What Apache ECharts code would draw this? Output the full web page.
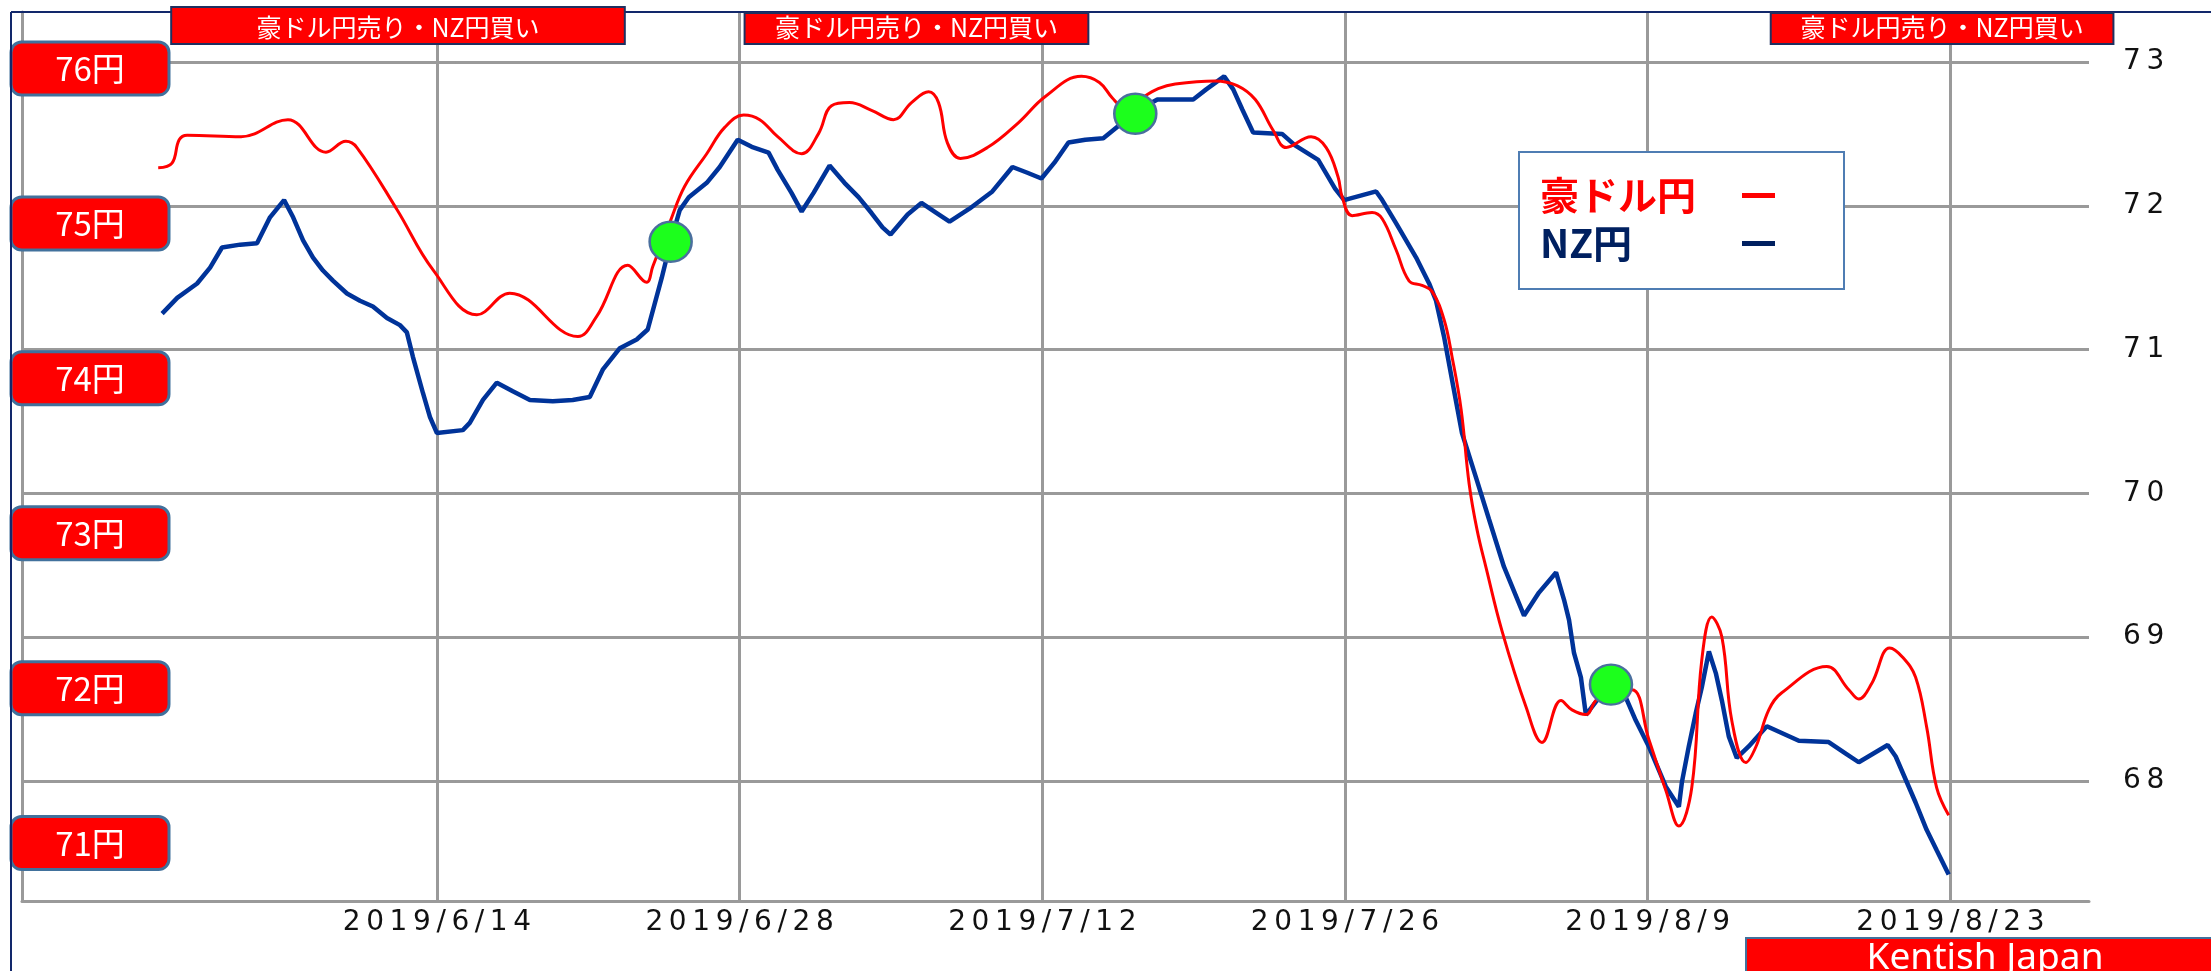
<!DOCTYPE html>
<html>
<head>
<meta charset="utf-8">
<script src="https://cdn.jsdelivr.net/npm/echarts@6/dist/echarts.min.js"></script>
<style>
  html, body { margin: 0; padding: 0; background: #fff; }
  #main { width: 2211px; height: 971px; }
</style>
</head>
<body>
<div id="main"></div>
<script>
// x軸は 2019/6/14 からの日数
var tickLabels = ['2019/6/14', '2019/6/28', '2019/7/12', '2019/7/26', '2019/8/9', '2019/8/23'];
var nzTicks = [68, 69, 70, 71, 72, 73];
var audTicks = [71, 72, 73, 74, 75, 76];

// NZ円 (右軸)
var nzDays = [-12.71, -12.01, -11.09, -10.49, -9.94, -9.10, -8.32, -7.72, -7.07, -6.65,
  -6.19, -5.73, -5.27, -4.81, -4.16, -3.56, -2.96, -2.31, -1.71, -1.39,
  -1.11, -0.65, -0.32, 0.00, 1.20, 1.52, 2.13, 2.77, 3.51, 4.30,
  5.36, 6.28, 7.07, 7.67, 8.46, 9.24, 9.75, 10.40, 10.81, 11.23,
  11.65, 12.48, 13.08, 13.91, 14.56, 15.34, 15.76, 16.40, 16.87, 17.42,
  18.16, 18.85, 19.50, 20.10, 20.61, 20.98, 21.77, 22.41, 23.01, 23.71,
  24.63, 25.69, 26.62, 27.31, 27.96, 28.56, 29.21, 29.99, 30.82, 31.56,
  32.25, 33.32, 34.98, 35.58, 36.41, 36.83, 37.25, 37.75, 39.09, 39.69,
  40.76, 41.54, 41.96, 43.44, 43.72, 44.36, 45.29, 45.89, 46.21, 46.58,
  46.95, 47.41, 48.06, 48.66, 49.35, 50.28, 50.97, 51.76, 52.13, 52.36,
  52.59, 52.91, 53.14, 53.60, 54.30, 54.99, 55.45, 56.05, 56.84, 57.44,
  57.58, 57.90, 58.22, 58.50, 58.83, 59.15, 59.43, 59.75, 60.12, 60.67,
  61.51, 62.99, 64.37, 65.16, 65.76, 67.10, 67.47, 67.93, 68.39, 68.90,
  69.36, 69.92];
var nzVals = [71.25, 71.36, 71.46, 71.57, 71.71, 71.73, 71.74, 71.92, 72.04, 71.92,
  71.76, 71.64, 71.55, 71.48, 71.39, 71.34, 71.30, 71.22, 71.17, 71.12,
  70.95, 70.70, 70.53, 70.42, 70.44, 70.49, 70.65, 70.77, 70.71, 70.65,
  70.64, 70.65, 70.67, 70.86, 71.01, 71.07, 71.14, 71.50, 71.75, 71.97,
  72.06, 72.16, 72.27, 72.46, 72.41, 72.37, 72.25, 72.09, 71.96, 72.09,
  72.28, 72.16, 72.06, 71.95, 71.85, 71.80, 71.94, 72.02, 71.96, 71.89,
  71.98, 72.10, 72.27, 72.23, 72.19, 72.30, 72.44, 72.46, 72.47, 72.56,
  72.65, 72.74, 72.74, 72.81, 72.90, 72.81, 72.67, 72.51, 72.50, 72.42,
  72.32, 72.12, 72.04, 72.10, 72.04, 71.88, 71.64, 71.46, 71.34, 71.09,
  70.79, 70.42, 70.11, 69.82, 69.49, 69.15, 69.31, 69.45, 69.26, 69.12,
  68.89, 68.72, 68.46, 68.55, 68.67, 68.58, 68.42, 68.24, 67.96, 67.82,
  67.99, 68.24, 68.47, 68.65, 68.90, 68.75, 68.56, 68.31, 68.16, 68.24,
  68.38, 68.28, 68.27, 68.19, 68.13, 68.25, 68.17, 68.01, 67.85, 67.66,
  67.52, 67.35];

// 豪ドル円 (左軸)
var audDays = [-12.89, -12.25, -11.92, -11.55, -9.06, -6.89, -5.13, -4.21, -3.70, -1.85,
  -0.18, 1.85, 3.37, 6.52, 7.39, 8.83, 9.70, 9.98, 10.81, 11.46,
  12.48, 13.31, 14.19, 14.93, 15.76, 16.87, 17.65, 18.25, 19.08, 20.10,
  21.12, 21.95, 22.74, 23.20, 23.61, 24.21, 25.46, 26.89, 28.14, 29.81,
  30.64, 31.24, 31.70, 33.36, 34.15, 36.00, 37.01, 37.85, 38.68, 39.28,
  40.43, 41.13, 41.68, 41.87, 42.33, 43.25, 43.72, 44.36, 44.96, 45.56,
  46.03, 46.58, 46.95, 47.37, 47.74, 48.11, 48.52, 49.26, 50.37, 51.11,
  51.99, 52.50, 53.14, 53.60, 54.30, 55.27, 56.05, 56.84, 57.44, 58.04,
  58.50, 58.96, 59.43, 59.89, 60.54, 61.00, 61.60, 62.20, 64.28, 65.30,
  65.76, 66.36, 67.19, 67.79, 68.39, 68.90, 69.36, 69.92];
var audVals = [75.36, 75.39, 75.54, 75.57, 75.56, 75.67, 75.46, 75.53, 75.49, 75.09,
  74.70, 74.41, 74.55, 74.27, 74.40, 74.73, 74.62, 74.72, 75.02, 75.24,
  75.45, 75.62, 75.70, 75.67, 75.56, 75.45, 75.58, 75.76, 75.78, 75.73,
  75.67, 75.78, 75.85, 75.78, 75.52, 75.42, 75.49, 75.65, 75.82, 75.95,
  75.91, 75.81, 75.76, 75.87, 75.90, 75.92, 75.89, 75.80, 75.60, 75.49,
  75.56, 75.49, 75.30, 75.17, 75.05, 75.07, 75.03, 74.83, 74.63, 74.60,
  74.56, 74.38, 74.14, 73.80, 73.32, 73.02, 72.78, 72.37, 71.88, 71.65,
  71.92, 71.86, 71.83, 71.92, 71.99, 71.99, 71.67, 71.34, 71.11, 71.36,
  72.18, 72.46, 72.33, 71.79, 71.52, 71.62, 71.86, 71.97, 72.14, 71.99,
  71.93, 72.03, 72.26, 72.20, 72.07, 71.75, 71.36, 71.18];

// シグナル (緑の丸)
var signalDays = [10.81, 32.30, 54.30];
var signalVals = [71.75, 72.64, 68.67];

// 上部の帯
var bannerText = '豪ドル円売り・NZ円買い';
var bannerFrom = [-12.29, 14.23, 61.69];
var bannerTo = [8.69, 30.13, 77.54];

var BASE = new Date(2019, 5, 14).getTime();
var DAY = 86400000;
function dayOf(s) {
    var p = s.split('/').map(Number);
    return Math.round((new Date(p[0], p[1] - 1, p[2]).getTime() - BASE) / DAY);
}
function dateOf(d) {
    var t = new Date(BASE + d * DAY);
    return t.getFullYear() + '/' + (t.getMonth() + 1) + '/' + t.getDate();
}
function spaced(s) { return String(s).split('').join('\u2009'); }

var tickDays = tickLabels.map(dayOf);
var gridColor = '#9a9a9a';
var jp = '"Noto Sans CJK JP", sans-serif';

var nzData = nzDays.map(function (d, i) { return [d, nzVals[i]]; });
var audData = audDays.map(function (d, i) { return [d, audVals[i]]; });
var signalData = signalDays.map(function (d, i) { return [d, signalVals[i]]; });

var myChart = echarts.init(document.getElementById('main'));

var option = {
    animation: false,
    backgroundColor: '#fff',
    grid: { left: 22, top: 12, right: 122, bottom: 70, outerBoundsMode: 'none' },
    legend: {
        orient: 'vertical',
        left: 1519,
        top: 152,
        align: 'right',
        icon: 'rect',
        itemWidth: 33,
        itemHeight: 5,
        itemGap: 9,
        padding: [24, 69, 26, 21],
        backgroundColor: '#fff',
        borderColor: '#4f7db3',
        borderWidth: 2,
        selectedMode: false,
        formatter: function (n) { return '{t|' + n + '}'; },
        textStyle: {
            fontFamily: jp, fontWeight: 'bold', fontSize: 39,
            rich: { t: { width: 197, align: 'left', fontFamily: jp, fontWeight: 'bold', fontSize: 39, lineHeight: 46 } }
        },
        data: [
            { name: '豪ドル円', textStyle: { color: '#ff0000' }, itemStyle: { color: '#ff0000' } },
            { name: 'NZ円', textStyle: { color: '#002060' }, itemStyle: { color: '#002060' } }
        ]
    },
    xAxis: [{
        type: 'value',
        min: -19.19,
        max: 76.41,
        axisLine: { show: true, lineStyle: { color: gridColor, width: 3 } },
        axisTick: { show: false, customValues: tickDays },
        axisLabel: {
            customValues: tickDays,
            margin: 8,
            color: '#111',
            fontFamily: 'DejaVu Sans',
            fontSize: 28,
            formatter: function (v) { return spaced(dateOf(v)); }
        },
        splitLine: { show: true, lineStyle: { color: gridColor, width: 3 } }
    }],
    yAxis: [{
        type: 'value',
        position: 'right',
        min: 67.165,
        max: 73.348,
        axisLine: { show: true, lineStyle: { color: gridColor, width: 3 } },
        axisTick: { show: true, length: 19, customValues: nzTicks, lineStyle: { color: gridColor, width: 3 } },
        axisLabel: {
            customValues: nzTicks,
            margin: 34,
            color: '#111',
            fontFamily: 'DejaVu Sans',
            fontSize: 28,
            formatter: function (v) { return spaced(v); }
        },
        splitLine: { show: true, lineStyle: { color: gridColor, width: 3 } }
    }, {
        type: 'value',
        position: 'left',
        min: 70.626,
        max: 76.365,
        axisLine: { show: true, lineStyle: { color: gridColor, width: 3 } },
        axisTick: { show: false, customValues: audTicks },
        axisLabel: {
            customValues: audTicks,
            margin: -68,
            align: 'center',
            color: '#fff',
            fontFamily: jp,
            fontSize: 33,
            backgroundColor: '#ff0000',
            borderColor: '#41719c',
            borderWidth: 3,
            borderRadius: 9,
            width: 155,
            height: 50,
            lineHeight: 50,
            formatter: function (v) { return v + '円'; }
        },
        splitLine: { show: false }
    }],
    series: [{
        name: 'NZ円',
        type: 'line',
        xAxisIndex: 0,
        yAxisIndex: 0,
        showSymbol: false,
        symbol: 'none',
        data: nzData,
        color: '#003399',
        lineStyle: { color: '#003399', width: 4.5 },
        z: 3
    }, {
        name: '豪ドル円',
        type: 'line',
        xAxisIndex: 0,
        yAxisIndex: 1,
        smooth: 0.4,
        showSymbol: false,
        symbol: 'none',
        data: audData,
        color: '#ff0000',
        lineStyle: { color: '#ff0000', width: 3 },
        z: 4
    }, {
        name: 'signal',
        type: 'scatter',
        xAxisIndex: 0,
        yAxisIndex: 0,
        symbol: 'circle',
        symbolSize: [42, 40],
        data: signalData,
        itemStyle: { color: '#1cff1c', borderColor: '#4a6f9e', borderWidth: 2.5, opacity: 1 },
        z: 6
    }]
};

myChart.setOption(option);

// 帯・枠などの装飾は軸の座標から位置を求める
var graphics = [
    { type: 'line', shape: { x1: 11, y1: 12, x2: 2211, y2: 12 }, style: { stroke: '#12286b', lineWidth: 2 }, z: 10 },
    { type: 'line', shape: { x1: 11, y1: 12, x2: 11, y2: 971 }, style: { stroke: '#12286b', lineWidth: 2 }, z: 10 }
];
var bannerTop = [7, 13, 13];
bannerFrom.forEach(function (d, i) {
    var x0 = myChart.convertToPixel({ xAxisIndex: 0 }, d);
    var x1 = myChart.convertToPixel({ xAxisIndex: 0 }, bannerTo[i]);
    graphics.push({
        type: 'rect', z: 20,
        shape: { x: x0, y: bannerTop[i], width: x1 - x0, height: 44 - bannerTop[i] },
        style: { fill: '#ff0000', stroke: '#1f3060', lineWidth: 2 }
    });
    graphics.push({
        type: 'text', z: 21,
        x: (x0 + x1) / 2, y: 27,
        style: { text: bannerText, fill: '#fff', font: '25px ' + jp, align: 'center', verticalAlign: 'middle' }
    });
});
graphics.push({
    type: 'rect', z: 20,
    shape: { x: 1746, y: 938, width: 480, height: 50 },
    style: { fill: '#ff0000', stroke: '#41719c', lineWidth: 2 }
});
graphics.push({
    type: 'text', z: 21,
    x: 1985, y: 958,
    style: { text: 'Kentish Japan', fill: '#fff', font: '37px "Noto Sans", sans-serif', align: 'center', verticalAlign: 'middle' }
});
myChart.setOption({ graphic: graphics });
</script>
</body>
</html>
